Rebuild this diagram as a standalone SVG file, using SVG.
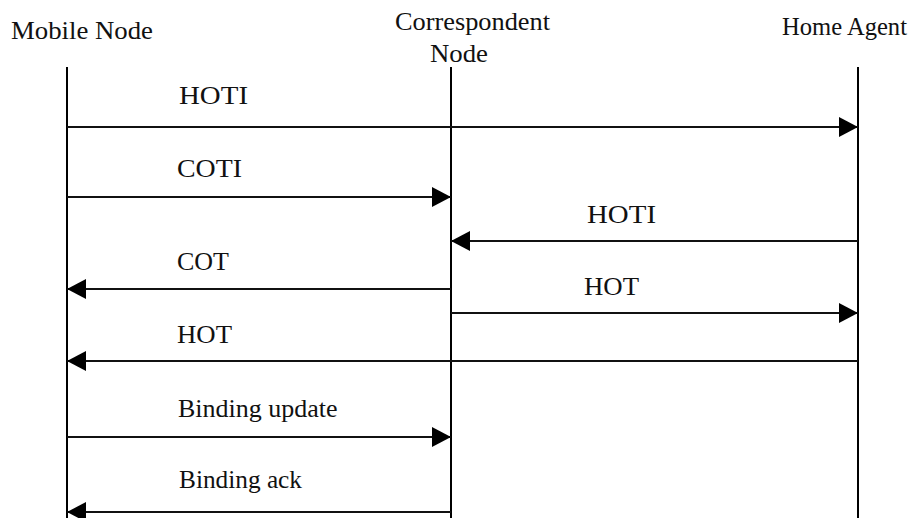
<svg xmlns="http://www.w3.org/2000/svg" width="917" height="518" viewBox="0 0 917 518">
  <style>
    .label { font-family: "Liberation Serif", "DejaVu Serif", "Times New Roman", Times, serif; font-size: 26px; fill: #111; }
    .lifeline { stroke: #000; stroke-width: 2; fill: none; }
    .msg { stroke: #111; stroke-width: 2; fill: none; marker-end: url(#head); }
  </style>
  <defs>
    <marker id="head" markerUnits="userSpaceOnUse" markerWidth="20" markerHeight="22" viewBox="0 0 20 22" refX="19" refY="11" orient="auto">
      <path d="M0,1 L19,11 L0,21 Z" fill="#000"/>
    </marker>
  </defs>

  <!-- Participants -->
  <g id="mobile-node">
    <text class="label" x="11" y="39" textLength="142" lengthAdjust="spacingAndGlyphs">Mobile Node</text>
    <line class="lifeline" x1="67" y1="67" x2="67" y2="518"/>
  </g>
  <g id="correspondent-node">
    <text class="label" x="395" y="30" textLength="155" lengthAdjust="spacingAndGlyphs">Correspondent</text>
    <text class="label" x="430" y="62" textLength="58" lengthAdjust="spacingAndGlyphs">Node</text>
    <line class="lifeline" x1="451" y1="67" x2="451" y2="518"/>
  </g>
  <g id="home-agent">
    <text class="label" x="782" y="35" textLength="125" lengthAdjust="spacingAndGlyphs">Home Agent</text>
    <line class="lifeline" x1="858" y1="67" x2="858" y2="518"/>
  </g>

  <!-- Messages -->
  <g id="messages">
    <line class="msg" x1="67" y1="127" x2="858" y2="127"/>
    <line class="msg" x1="67" y1="197" x2="451" y2="197"/>
    <line class="msg" x1="858" y1="241" x2="451" y2="241"/>
    <line class="msg" x1="451" y1="289" x2="67" y2="289"/>
    <line class="msg" x1="451" y1="313" x2="858" y2="313"/>
    <line class="msg" x1="858" y1="361" x2="67" y2="361"/>
    <line class="msg" x1="67" y1="437" x2="451" y2="437"/>
    <line class="msg" x1="451" y1="512" x2="67" y2="512"/>
  </g>

  <!-- Message labels -->
  <g id="message-labels">
    <text class="label" x="179" y="104" textLength="69" lengthAdjust="spacingAndGlyphs">HOTI</text>
    <text class="label" x="177" y="177" textLength="65" lengthAdjust="spacingAndGlyphs">COTI</text>
    <text class="label" x="587" y="223" textLength="69" lengthAdjust="spacingAndGlyphs">HOTI</text>
    <text class="label" x="177" y="270" textLength="52" lengthAdjust="spacingAndGlyphs">COT</text>
    <text class="label" x="584" y="295" textLength="55" lengthAdjust="spacingAndGlyphs">HOT</text>
    <text class="label" x="177" y="343" textLength="55" lengthAdjust="spacingAndGlyphs">HOT</text>
    <text class="label" x="178" y="417">Binding update</text>
    <text class="label" x="179" y="488" textLength="123" lengthAdjust="spacingAndGlyphs">Binding ack</text>
  </g>
</svg>
